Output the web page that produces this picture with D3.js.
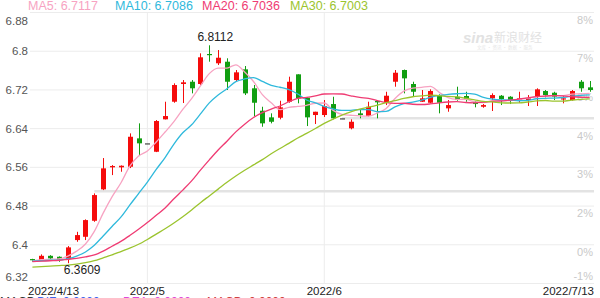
<!DOCTYPE html>
<html>
<head>
<meta charset="utf-8">
<script src="https://cdn.jsdelivr.net/npm/d3@7"></script>
<style>
    body { margin: 0; background: #fff; }
    svg { display: block; font-family: "Liberation Sans", Arial, sans-serif; }
</style>
</head>
<body>
<div id="chart"></div>
<script>
// trading days shown on the chart
var dates = [
    "2022-04-13","2022-04-14","2022-04-15","2022-04-18","2022-04-19","2022-04-20","2022-04-21","2022-04-22",
    "2022-04-25","2022-04-26","2022-04-27","2022-04-28","2022-04-29",
    "2022-05-04","2022-05-05","2022-05-06","2022-05-09","2022-05-10","2022-05-11","2022-05-12","2022-05-13",
    "2022-05-16","2022-05-17","2022-05-18","2022-05-19","2022-05-20","2022-05-23","2022-05-24","2022-05-25",
    "2022-05-26","2022-05-27","2022-05-30","2022-05-31",
    "2022-06-01","2022-06-02","2022-06-03","2022-06-06","2022-06-07","2022-06-08","2022-06-09","2022-06-10",
    "2022-06-13","2022-06-14","2022-06-15","2022-06-16","2022-06-17","2022-06-20","2022-06-21","2022-06-22",
    "2022-06-23","2022-06-24","2022-06-27","2022-06-28","2022-06-29","2022-06-30",
    "2022-07-01","2022-07-04","2022-07-05","2022-07-06","2022-07-07","2022-07-08","2022-07-11","2022-07-12","2022-07-13"
];

var opens = [
    6.3695, 6.3673, 6.3762, 6.3742, 6.3694, 6.4087, 6.4155, 6.4486,
    6.5135, 6.5590, 6.5590, 6.5602, 6.6189, 6.6086, 6.5912, 6.6582,
    6.6946, 6.7312, 6.7359, 6.7312, 6.7932, 6.7740, 6.7773, 6.7394,
    6.7615, 6.7223, 6.6760, 6.6623, 6.6615, 6.6946, 6.7512, 6.7028,
    6.6671, 6.6671, 6.6898, 6.6603, 6.6396, 6.6706, 6.6650, 6.6960,
    6.6925, 6.7359, 6.7601, 6.7312, 6.6946, 6.6925, 6.7084, 6.6809,
    6.7049, 6.7064, 6.6946, 6.6842, 6.7016, 6.7070, 6.7049, 6.6966,
    6.6981, 6.7049, 6.7167, 6.7132, 6.6995, 6.6981, 6.7359, 6.7243
];
var highs = [
    6.3700, 6.3791, 6.3775, 6.3750, 6.3963, 6.4258, 6.4515, 6.5052,
    6.5782, 6.5637, 6.5630, 6.6292, 6.6499, 6.6086, 6.6567, 6.6946,
    6.7326, 6.7394, 6.7394, 6.7946, 6.8112, 6.8014, 6.7843, 6.7601,
    6.7684, 6.7291, 6.6842, 6.6706, 6.6966, 6.7463, 6.7512, 6.7040,
    6.6739, 6.6981, 6.7049, 6.6603, 6.6582, 6.6774, 6.6946, 6.6981,
    6.7152, 6.7601, 6.7610, 6.7359, 6.7188, 6.7202, 6.7100, 6.6981,
    6.7256, 6.7152, 6.6960, 6.6898, 6.7119, 6.7084, 6.7060, 6.7152,
    6.7084, 6.7223, 6.7188, 6.7152, 6.7084, 6.7188, 6.7394, 6.7374
];
var lows = [
    6.3640, 6.3660, 6.3673, 6.3638, 6.3609, 6.4052, 6.4087, 6.4465,
    6.5120, 6.5430, 6.5499, 6.5575, 6.5823, 6.6086, 6.5905, 6.6580,
    6.6925, 6.6919, 6.7119, 6.7291, 6.7773, 6.7704, 6.7188, 6.7359,
    6.7084, 6.6650, 6.6429, 6.6499, 6.6582, 6.6925, 6.6913, 6.6443,
    6.6485, 6.6630, 6.6582, 6.6603, 6.6375, 6.6603, 6.6640, 6.6603,
    6.6877, 6.7256, 6.7119, 6.7049, 6.6940, 6.6913, 6.6706, 6.6739,
    6.6967, 6.6946, 6.6830, 6.6822, 6.6754, 6.6877, 6.6898, 6.6925,
    6.6857, 6.6857, 6.7036, 6.6981, 6.6913, 6.6967, 6.7152, 6.7152
];
var closes = [
    6.3680, 6.3762, 6.3708, 6.3688, 6.3936, 6.4190, 6.4500, 6.5017,
    6.5569, 6.5617, 6.5623, 6.6222, 6.6086, 6.6086, 6.6547, 6.6650,
    6.7291, 6.7347, 6.7223, 6.7864, 6.7911, 6.7855, 6.7359, 6.7553,
    6.7119, 6.6925, 6.6499, 6.6532, 6.6830, 6.7359, 6.7016, 6.6623,
    6.6739, 6.6857, 6.6603, 6.6603, 6.6532, 6.6671, 6.6842, 6.6933,
    6.7070, 6.7545, 6.7429, 6.7152, 6.7016, 6.7167, 6.6925, 6.6877,
    6.6981, 6.7008, 6.6898, 6.6877, 6.7084, 6.7002, 6.6981, 6.7016,
    6.7016, 6.7202, 6.7084, 6.7049, 6.7016, 6.7167, 6.7223, 6.7188
];

var ma5 = [
    6.3656, 6.3682, 6.3690, 6.3698, 6.3756, 6.3858, 6.4006, 6.4268,
    6.4644, 6.4980, 6.5266, 6.5610, 6.5824, 6.5928, 6.6114, 6.6320,
    6.6534, 6.6786, 6.7012, 6.7274, 6.7526, 6.7640, 6.7642, 6.7708,
    6.7560, 6.7364, 6.7092, 6.6926, 6.6782, 6.6830, 6.6848, 6.6872,
    6.6914, 6.6920, 6.6768, 6.6684, 6.6666, 6.6652, 6.6648, 6.6714,
    6.6808, 6.7012, 6.7164, 6.7226, 6.7244, 6.7264, 6.7140, 6.7030,
    6.6996, 6.6994, 6.6940, 6.6930, 6.6970, 6.6974, 6.6968, 6.6992,
    6.7020, 6.7044, 6.7060, 6.7074, 6.7074, 6.7104, 6.7108, 6.7117
];
var ma10 = [
    6.3650, 6.3660, 6.3670, 6.3674, 6.3703, 6.3757, 6.3842, 6.3980,
    6.4171, 6.4368, 6.4562, 6.4808, 6.5046, 6.5286, 6.5547, 6.5793,
    6.6072, 6.6305, 6.6470, 6.6694, 6.6923, 6.7087, 6.7214, 6.7360,
    6.7417, 6.7445, 6.7366, 6.7284, 6.7245, 6.7195, 6.7106, 6.6982,
    6.6920, 6.6851, 6.6799, 6.6766, 6.6769, 6.6783, 6.6784, 6.6741,
    6.6746, 6.6839, 6.6908, 6.6937, 6.6979, 6.7036, 6.7076, 6.7097,
    6.7111, 6.7119, 6.7102, 6.7035, 6.7000, 6.6985, 6.6981, 6.6966,
    6.6975, 6.7007, 6.7017, 6.7021, 6.7033, 6.7062, 6.7076, 6.7086
];
var ma20 = [
    6.3640, 6.3650, 6.3660, 6.3670, 6.3690, 6.3710, 6.3740, 6.3780,
    6.3860, 6.3960, 6.4060, 6.4180, 6.4310, 6.4450, 6.4600, 6.4750,
    6.4940, 6.5120, 6.5310, 6.5531, 6.5743, 6.5948, 6.6130, 6.6323,
    6.6482, 6.6619, 6.6719, 6.6795, 6.6858, 6.6945, 6.7015, 6.7035,
    6.7067, 6.7106, 6.7108, 6.7106, 6.7068, 6.7034, 6.7015, 6.6968,
    6.6926, 6.6911, 6.6914, 6.6894, 6.6889, 6.6901, 6.6923, 6.6940,
    6.6948, 6.6930, 6.6924, 6.6937, 6.6954, 6.6961, 6.6980, 6.7001,
    6.7026, 6.7052, 6.7064, 6.7070, 6.7068, 6.7049, 6.7038, 6.7036
];
var ma30 = [
    6.3530, 6.3540, 6.3550, 6.3560, 6.3570, 6.3590, 6.3620, 6.3660,
    6.3720, 6.3780, 6.3850, 6.3920, 6.4000, 6.4100, 6.4210, 6.4320,
    6.4440, 6.4570, 6.4710, 6.4860, 6.5000, 6.5140, 6.5280, 6.5410,
    6.5530, 6.5640, 6.5750, 6.5870, 6.5980, 6.6086, 6.6197, 6.6292,
    6.6393, 6.6499, 6.6588, 6.6668, 6.6736, 6.6791, 6.6833, 6.6877,
    6.6925, 6.6969, 6.7014, 6.7049, 6.7065, 6.7082, 6.7070, 6.7055,
    6.7047, 6.7018, 6.6985, 6.6952, 6.6943, 6.6924, 6.6920, 6.6923,
    6.6940, 6.6962, 6.6971, 6.6960, 6.6960, 6.6979, 6.6995, 6.7003
];

// axis ticks
var yTicks = [6.88, 6.8, 6.72, 6.64, 6.56, 6.48, 6.4, 6.32];
var pctLabels = ["8%", "7%", "6%", "4%", "3%", "2%", "0%", "-1%"];
var xTickDates = ["2022-04-13", "2022-05-04", "2022-06-01", "2022-07-13"];
var xTickLabels = ["2022/4/13", "2022/5", "2022/6", "2022/7/13"];
var monthStarts = ["2022-05-04", "2022-06-01"];

// legends
var maNames = ["MA5: 6.7117", "MA10: 6.7086", "MA20: 6.7036", "MA30: 6.7003"];
var subNames = ["MACD", "DIF: 0.0000", "DEA: 0.0000", "MACD: 0.0000"];

// grey price bands (price, index of first day)
var bandPrices = [6.5095, 6.6603];
var bandStarts = [7, 35];

function init() {
    var w = 600;
    var h = 298;
    var plotL = 30, plotR = 594, plotT = 12, plotB = 283;

    var maColors = ["#f7a3c2", "#2fb9dc", "#ef3b73", "#9bc42e"];
    var subColors = ["#333333", "#3e63ee", "#e046d8", "#cf4040"];
    var upColor = "#f50c0c", downColor = "#119e11", flatColor = "#444444";

    var svg = d3.select("#chart")
                .append("svg")
                .attr("width", w)
                .attr("height", h);

    var xScale = d3.scaleBand()
        .domain(dates)
        .range([28, plotR])
        .paddingInner(0.4)
        .paddingOuter(0.2);

    var yScale = d3.scaleLinear()
        .domain([6.32, 6.88])
        .range([plotB, plotT]);

    function cx(d) { return xScale(d) + xScale.bandwidth() / 2; }

    // left axis with horizontal gridlines
    var yAxis = d3.axisLeft(yScale)
        .tickValues(yTicks)
        .tickSize(-(plotR - plotL))
        .tickPadding(2)
        .tickFormat(function(d) { return String(d); });

    var gy = svg.append("g")
        .attr("class", "y axis")
        .attr("transform", "translate(" + plotL + ",0)")
        .call(yAxis);
    gy.select(".domain").remove();
    gy.selectAll("line").attr("stroke", "#ececec");
    gy.selectAll("text")
        .attr("fill", "#555")
        .attr("font-size", 11.5)
        .attr("dy", function(d, i) {
            if (i === 0) return "1.05em";           // top label sits under the border
            if (i === yTicks.length - 1) return "-0.25em"; // bottom label sits above it
            return "0.35em";
        });

    // vertical month gridlines
    svg.selectAll(".vgrid")
        .data(monthStarts)
        .enter()
        .append("line")
        .attr("class", "vgrid")
        .attr("x1", cx).attr("x2", cx)
        .attr("y1", plotT).attr("y2", plotB)
        .attr("stroke", "#ececec");

    // right percentage labels
    var pctAxis = d3.axisLeft(yScale)
        .tickValues(yTicks)
        .tickSize(0)
        .tickPadding(0)
        .tickFormat(function(d, i) { return pctLabels[i]; });

    var gp = svg.append("g")
        .attr("class", "pct axis")
        .attr("transform", "translate(593,0)")
        .call(pctAxis);
    gp.select(".domain").remove();
    gp.selectAll("text")
        .attr("fill", "#c9c9c9")
        .attr("font-size", 11)
        .attr("dy", function(d, i) {
            return i === yTicks.length - 1 ? "-0.3em" : "1.0em";
        });

    // watermark
    svg.append("text")
        .attr("x", 463).attr("y", 43)
        .attr("font-size", 15)
        .attr("font-style", "italic")
        .attr("font-weight", "bold")
        .attr("fill", "#e2e2e2")
        .text("sina");
    svg.append("text")
        .attr("x", 494).attr("y", 42)
        .attr("font-size", 12)
        .attr("font-family", "Noto Sans CJK SC")
        .attr("fill", "#e2e2e2")
        .text("新浪财经");
    svg.append("text")
        .attr("x", 477).attr("y", 49)
        .attr("font-size", 4.5)
        .attr("font-family", "Noto Sans CJK SC")
        .attr("fill", "#e6e6e6")
        .text("文库 · 资讯 · 数据 · 服务");

    // grey price bands
    svg.selectAll(".band")
        .data(bandPrices)
        .enter()
        .append("line")
        .attr("class", "band")
        .attr("x1", function(d, i) { return cx(dates[bandStarts[i]]); })
        .attr("x2", plotR)
        .attr("y1", function(d) { return yScale(d); })
        .attr("y2", function(d) { return yScale(d); })
        .attr("stroke", "#e3e3e3")
        .attr("stroke-width", 2.6);

    // candles
    var candles = dates.map(function(d, i) {
        return { date: d, o: opens[i], h: highs[i], l: lows[i], c: closes[i] };
    });
    function candleColor(d) {
        if (d.c > d.o) return upColor;
        if (d.c < d.o) return downColor;
        return flatColor;
    }

    var gc = svg.append("g").attr("class", "candles");
    gc.selectAll(".wick")
        .data(candles)
        .enter()
        .append("line")
        .attr("class", "wick")
        .attr("x1", function(d) { return Math.round(cx(d.date)) + 0.5; })
        .attr("x2", function(d) { return Math.round(cx(d.date)) + 0.5; })
        .attr("y1", function(d) { return yScale(d.h); })
        .attr("y2", function(d) { return yScale(d.l); })
        .attr("stroke", candleColor)
        .attr("stroke-width", 1);

    gc.selectAll(".body")
        .data(candles)
        .enter()
        .append("rect")
        .attr("class", "body")
        .attr("x", function(d) { return Math.round(cx(d.date)) + 0.5 - 2.5; })
        .attr("width", 5)
        .attr("y", function(d) { return yScale(Math.max(d.o, d.c)); })
        .attr("height", function(d) {
            return Math.max(1.2, Math.abs(yScale(d.o) - yScale(d.c)));
        })
        .attr("fill", candleColor);

    // moving average lines
    var maSeries = [ma5, ma10, ma20, ma30];
    var line = d3.line()
        .x(function(d, i) { return cx(dates[i]); })
        .y(function(d) { return yScale(d); })
        .curve(d3.curveMonotoneX);

    svg.selectAll(".ma")
        .data(maSeries)
        .enter()
        .append("path")
        .attr("class", "ma")
        .attr("d", line)
        .attr("fill", "none")
        .attr("stroke", function(d, i) { return maColors[i]; })
        .attr("stroke-width", 1.3);

    // highest / lowest annotations
    var hiIdx = d3.maxIndex(highs);
    var loIdx = d3.minIndex(lows);
    svg.append("text")
        .attr("x", cx(dates[hiIdx]) + 6)
        .attr("y", yScale(highs[hiIdx]) - 4)
        .attr("text-anchor", "middle")
        .attr("font-size", 12)
        .attr("fill", "#222")
        .text(highs[hiIdx].toFixed(4));
    svg.append("text")
        .attr("x", cx(dates[loIdx]) - 4)
        .attr("y", yScale(lows[loIdx]) + 11)
        .attr("font-size", 12)
        .attr("fill", "#222")
        .text(lows[loIdx].toFixed(4));

    // x axis labels
    var xAxis = d3.axisBottom(xScale)
        .tickValues(xTickDates)
        .tickSize(0)
        .tickPadding(0)
        .tickFormat(function(d, i) { return xTickLabels[i]; });

    var gx = svg.append("g")
        .attr("class", "x axis")
        .attr("transform", "translate(0," + plotB + ")")
        .call(xAxis);
    gx.select(".domain").remove();
    gx.selectAll("text")
        .attr("fill", "#222")
        .attr("font-size", 11.5)
        .attr("dy", "1.0em")
        .attr("text-anchor", function(d, i) {
            if (i === 0) return "start";
            if (i === xTickDates.length - 1) return "end";
            return "middle";
        })
        .attr("x", function(d, i) {
            if (i === 0) return 28 - cx(d);
            if (i === xTickDates.length - 1) return plotR - cx(d);
            return 0;
        });

    // top legend
    var legX = [28, 115, 202, 290];
    svg.selectAll(".leg")
        .data(maNames)
        .enter()
        .append("text")
        .attr("class", "leg")
        .attr("x", function(d, i) { return legX[i]; })
        .attr("y", 10)
        .attr("font-size", 12.5)
        .attr("fill", function(d, i) { return maColors[i]; })
        .text(function(d) { return d; });

    // bottom legend row (cut off by the window edge)
    var subX = [0, 37, 123, 207];
    svg.selectAll(".sub")
        .data(subNames)
        .enter()
        .append("text")
        .attr("class", "sub")
        .attr("x", function(d, i) { return subX[i]; })
        .attr("y", 306)
        .attr("font-size", 12)
        .attr("fill", function(d, i) { return subColors[i]; })
        .text(function(d) { return d; });
}

window.onload = init;
</script>
</body>
</html>
